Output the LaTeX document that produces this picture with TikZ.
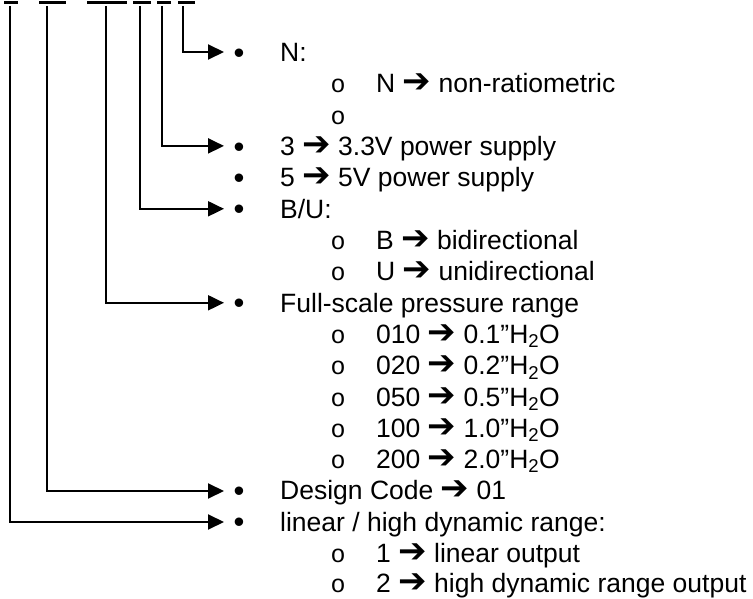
\documentclass[tikz,border=0pt]{standalone}
\usepackage{fontspec}
\setmainfont{Liberation Sans}
\newfontfamily\arrowfont{DejaVu Sans}
\newfontfamily\circfont{Liberation Mono}
\usetikzlibrary{arrows.meta}
\newcommand{\myarr}{{\arrowfont\fontsize{34}{36}\selectfont ➔}}
\begin{document}
\begin{tikzpicture}[x=1pt,y=-1pt,
  txt/.style={anchor=base west, inner sep=0pt, font=\fontsize{26.5}{30}\selectfont},
  bul/.style={anchor=base, inner sep=0pt, yshift=-1.7pt, font=\fontsize{31}{34}\selectfont},
  circ/.style={anchor=base, inner sep=0pt, font=\circfont\fontsize{25}{28}\selectfont},
  conn/.style={line width=2pt, -{Triangle[length=16pt,width=15pt]}},
  bar/.style={line width=3pt}]
\useasboundingbox (0,0) rectangle (753,599);
% top bars
\draw[bar] (4,2.5) -- (18,2.5);
\draw[bar] (39,2.5) -- (66,2.5);
\draw[bar] (87,2.5) -- (127,2.5);
\draw[bar] (133,2.5) -- (151,2.5);
\draw[bar] (157,2.5) -- (171,2.5);
\draw[bar] (178,2.5) -- (195,2.5);
\coordinate (v1) at (9.5,6);
\coordinate (v2) at (47,6);
\coordinate (v3) at (106,6);
\coordinate (v4) at (140,6);
\coordinate (v5) at (162,6);
\coordinate (v6) at (183,6);
% arrow ends
\coordinate (e0) at (224,52);
\coordinate (e3) at (224,145.9);
\coordinate (e5) at (224,208.8);
\coordinate (e8) at (224,302.8);
\coordinate (e14) at (224,491);
\coordinate (e15) at (224,522);
% row 0
\node[bul] (b0) at (239,61.7) {•};
\node[txt] (t0) at (280,61.7) {N:};
% row 1
\node[circ] (c1) at (338,93) {o};
\node[txt] (t1) at (376,93) {N \myarr\ non-ratiometric};
% row 2
\node[circ] (c2) at (338,124.3) {o};
% row 3
\node[bul] (b3) at (239,155.6) {•};
\node[txt] (t3) at (280,155.6) {3 \myarr\ 3.3V power supply};
% row 4
\node[bul] (b4) at (239,186.9) {•};
\node[txt] (t4) at (280,186.9) {5 \myarr\ 5V power supply};
% row 5
\node[bul] (b5) at (239,218.2) {•};
\node[txt] (t5) at (280,218.2) {B/U:};
% row 6
\node[circ] (c6) at (338,249.5) {o};
\node[txt] (t6) at (376,249.5) {B \myarr\ bidirectional};
% row 7
\node[circ] (c7) at (338,280.8) {o};
\node[txt] (t7) at (376,280.8) {U \myarr\ unidirectional};
% row 8
\node[bul] (b8) at (239,312.1) {•};
\node[txt] (t8) at (280,312.1) {Full-scale pressure range};
% rows 9-13
\node[circ] (c9) at (338,343.4) {o};
\node[txt] (t9) at (376,343.4) {010 \myarr\ 0.1”H\textsubscript{2}O};
\node[circ] (c10) at (338,374.7) {o};
\node[txt] (t10) at (376,374.7) {020 \myarr\ 0.2”H\textsubscript{2}O};
\node[circ] (c11) at (338,406) {o};
\node[txt] (t11) at (376,406) {050 \myarr\ 0.5”H\textsubscript{2}O};
\node[circ] (c12) at (338,437.3) {o};
\node[txt] (t12) at (376,437.3) {100 \myarr\ 1.0”H\textsubscript{2}O};
\node[circ] (c13) at (338,468.6) {o};
\node[txt] (t13) at (376,468.6) {200 \myarr\ 2.0”H\textsubscript{2}O};
% row 14
\node[bul] (b14) at (239,499.9) {•};
\node[txt] (t14) at (280,499.9) {Design Code \myarr\ 01};
% row 15
\node[bul] (b15) at (239,531.2) {•};
\node[txt] (t15) at (280,531.2) {linear / high dynamic range:};
% rows 16-17
\node[circ] (c16) at (338,562) {o};
\node[txt] (t16) at (376,562) {1 \myarr\ linear output};
\node[circ] (c17) at (338,592.6) {o};
\node[txt] (t17) at (376,592.6) {2 \myarr\ high dynamic range output};
% connectors
\draw[conn] (v6) |- (e0);
\draw[conn] (v5) |- (e3);
\draw[conn] (v4) |- (e5);
\draw[conn] (v3) |- (e8);
\draw[conn] (v2) |- (e14);
\draw[conn] (v1) |- (e15);
\end{tikzpicture}
\end{document}
